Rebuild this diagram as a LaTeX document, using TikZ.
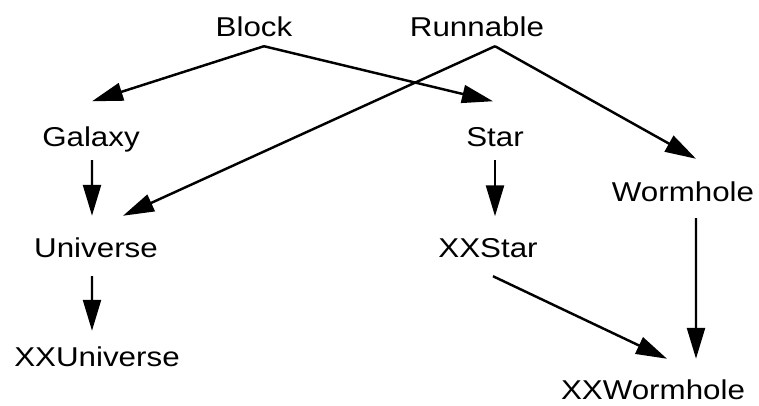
\documentclass[tikz,border=0pt]{standalone}
\usepackage{fontspec}
\setmainfont{Liberation Sans}
\usepackage{tikz}
\usetikzlibrary{positioning}
\usetikzlibrary{calc,arrows.meta}

\begin{document}
\begin{tikzpicture}[->,>={Triangle[length=6.2mm,width=3.6mm]},
  line width=1.4pt,
  cls node/.style={anchor=base,inner sep=0pt,text height=0.39cm,text depth=0pt,
    xscale=1.15,font=\fontsize{15.5}{18}\selectfont}]
\useasboundingbox (0,0) rectangle (15.18,8.12);
\node[cls node] at (5.08,7.38) (Block) {Block};
\node[cls node] at (9.54,7.38) (Runnable) {Runnable};
\node[cls node] at (1.82,5.18) (Galaxy) {Galaxy};
\node[cls node] at (9.90,5.18) (Star) {Star};
\node[cls node] at (13.66,4.08) (Worm) {Wormhole};
\node[cls node] at (1.92,2.96) (Univ) {Universe};
\node[cls node] at (9.76,2.96) (XXStar) {XXStar};
\node[cls node] at (1.94,0.78) (XXUniv) {XXUniverse};
\node[cls node] at (13.06,0.12) (XXWorm) {XXWormhole};
\draw[->] ([xshift=2mm,yshift=-1.6mm]Block.south) -- ([xshift=0.2mm,yshift=5mm]Galaxy.north);
\draw[->] ([xshift=2mm,yshift=-1.6mm]Block.south) -- ([xshift=-0.4mm,yshift=5mm]Star.north);
\draw[->] ([xshift=3.6mm,yshift=-1.6mm]Runnable.south) -- ([xshift=5.4mm,yshift=4.3mm]Univ.north);
\draw[->] ([xshift=3.6mm,yshift=-1.6mm]Runnable.south) -- ([xshift=2.6mm,yshift=4.5mm]Worm.north);
\draw[->] ([xshift=0.2mm,yshift=-2.4mm]Galaxy.south) -- ([xshift=-0.8mm,yshift=4.3mm]Univ.north);
\draw[->] ([yshift=-2.4mm]Star.south) -- ([xshift=1.4mm,yshift=4.2mm]XXStar.north);
\draw[->] ([xshift=-0.8mm,yshift=-3.4mm]Univ.south) -- ([xshift=-1mm,yshift=3.1mm]XXUniv.north);
\draw[->] ([xshift=1mm,yshift=-3.4mm]XXStar.south) -- ([xshift=2.8mm,yshift=4.1mm]XXWorm.north);
\draw[->] ([xshift=2.6mm,yshift=-3mm]Worm.south) -- ([xshift=8.6mm,yshift=4.1mm]XXWorm.north);
\end{tikzpicture}
\end{document}
